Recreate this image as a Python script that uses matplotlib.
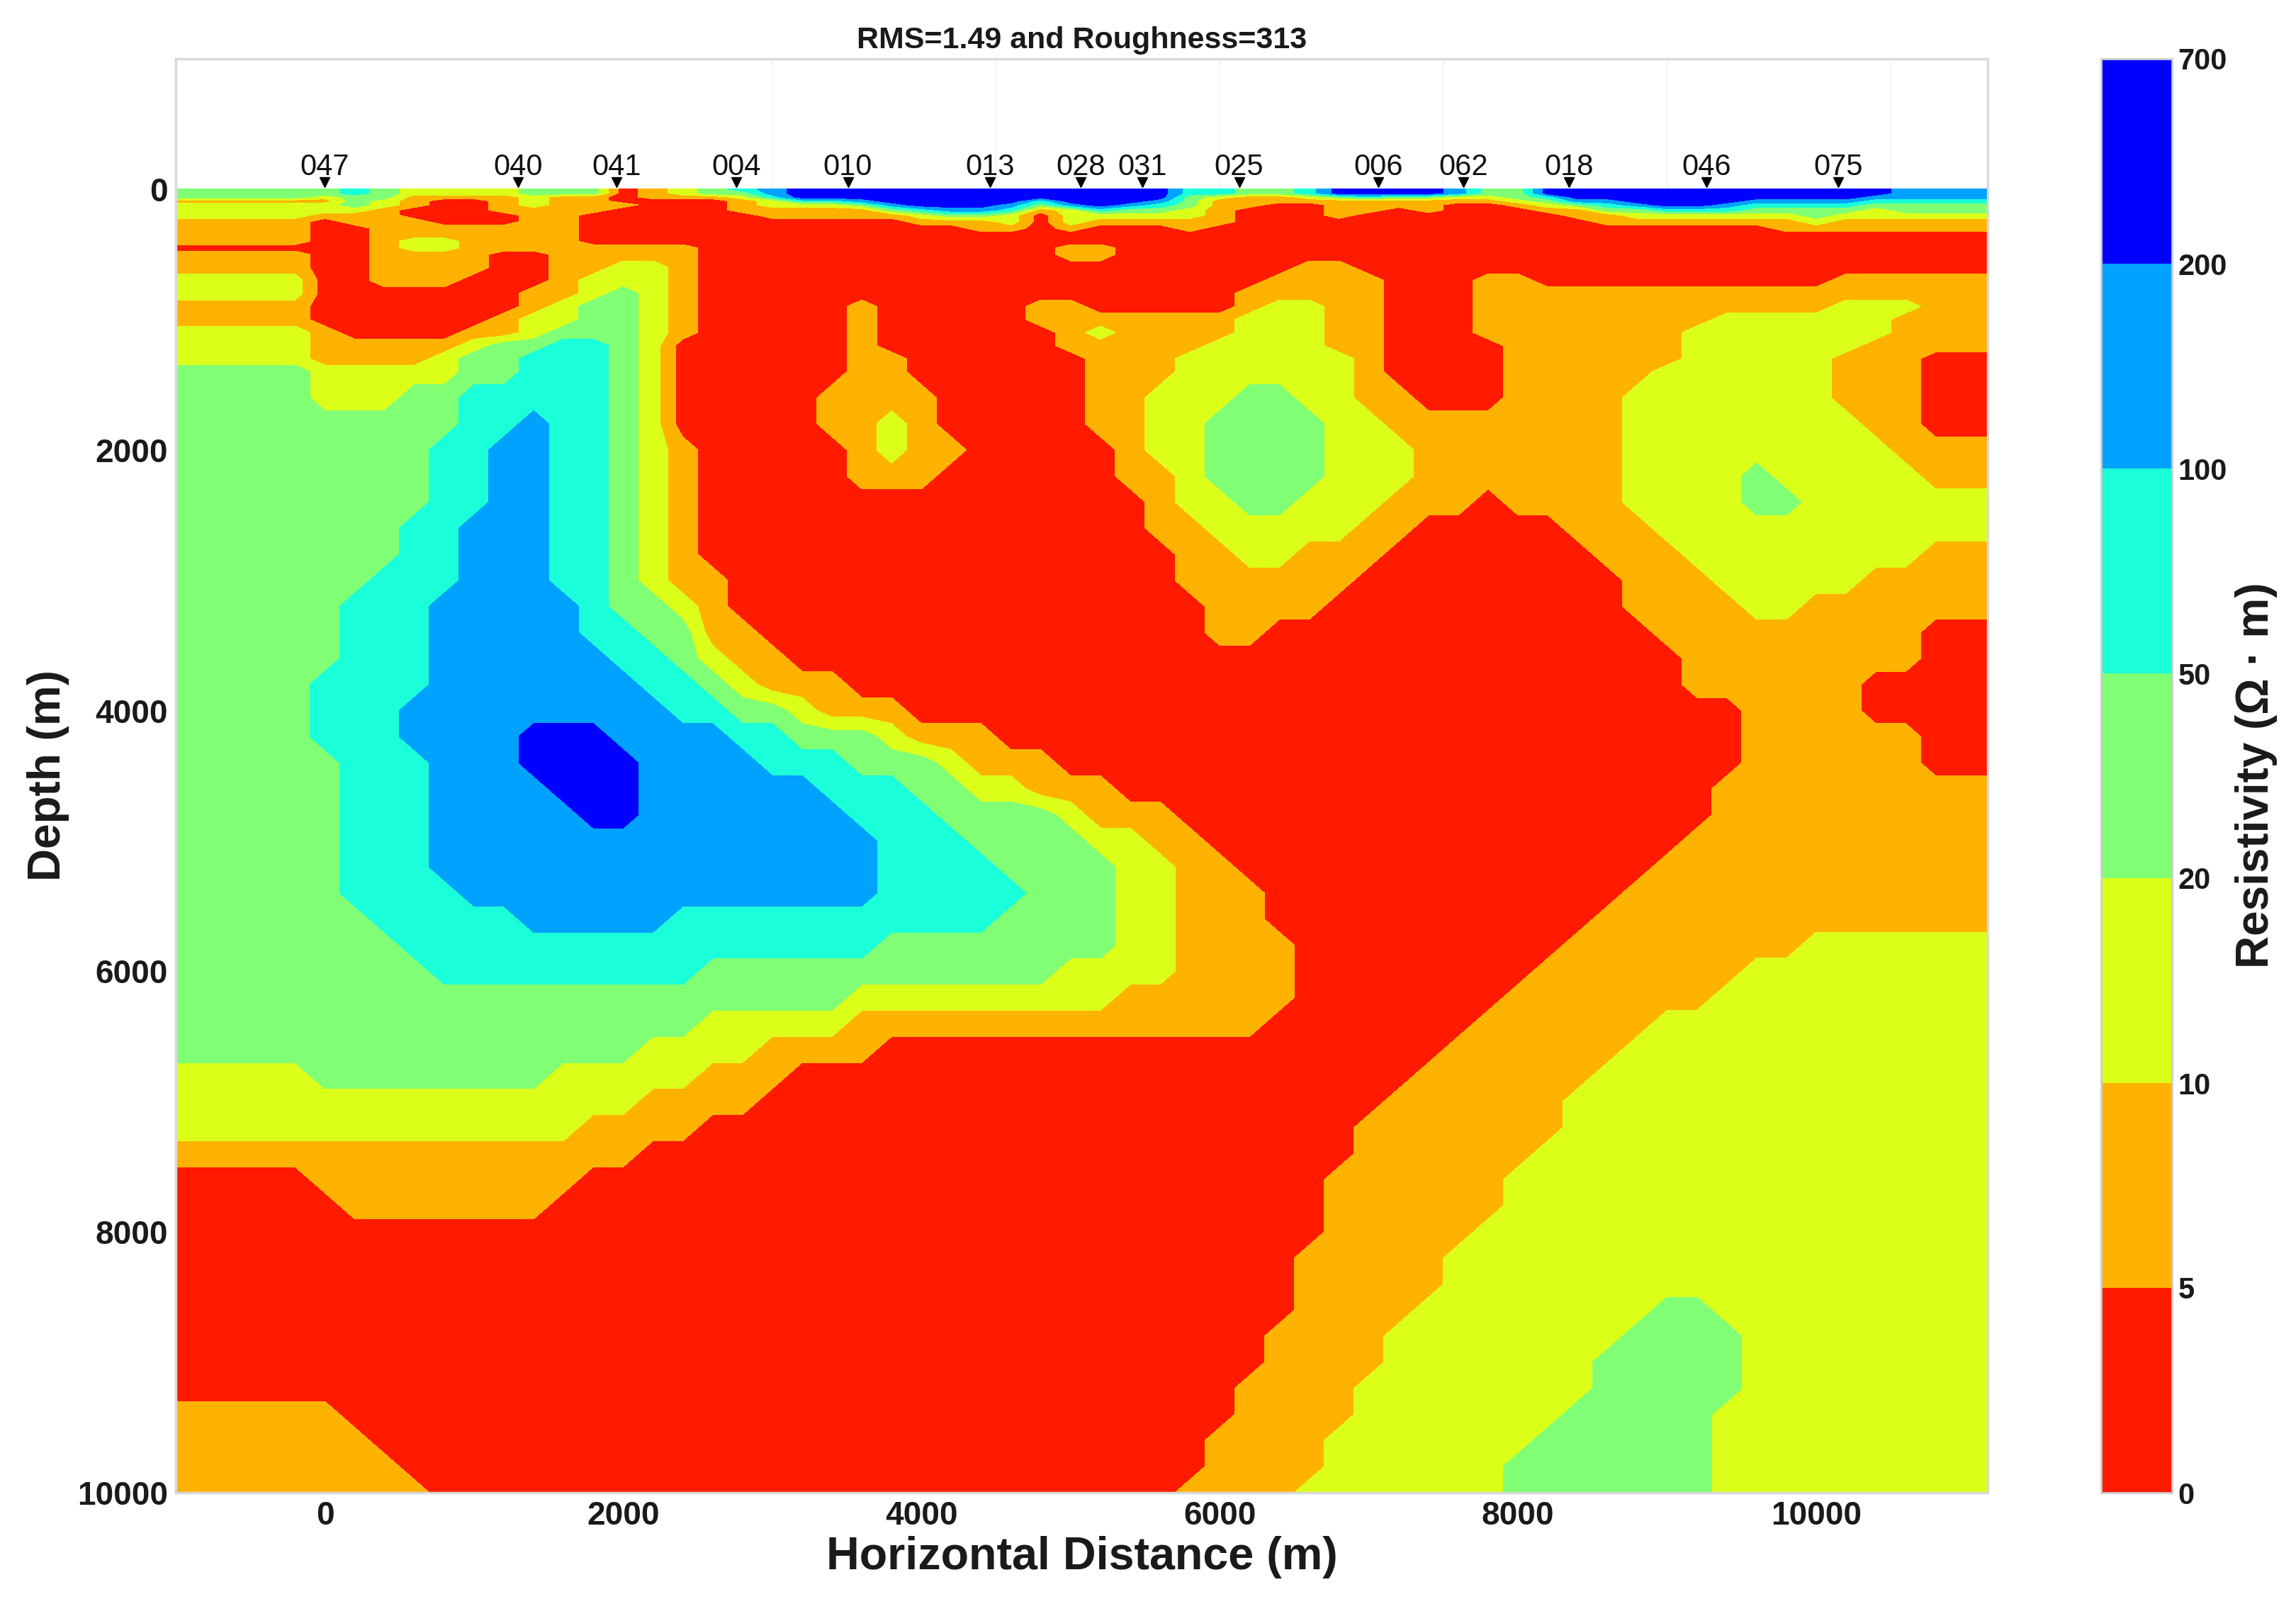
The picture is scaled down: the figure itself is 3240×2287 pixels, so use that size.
import numpy as np
import matplotlib
matplotlib.use("Agg")
import matplotlib.pyplot as plt

plt.rcParams['font.family'] = ['Liberation Sans', 'DejaVu Sans']

# Resistivity class per grid node: r o y g c b d = bands 0-5, 5-10, 10-20, 20-50, 50-100, 100-200, 200-700
BOUNDS = [0, 5, 10, 20, 50, 100, 200, 700]
COLORS = ['#ff1a00', '#ffb300', '#dcff1a', '#80ff75', '#1affd9', '#00a2ff', '#0000ff']
CLASS = 'roygcbd'

x_nodes = list(range(-1000, 11001, 200))
depths_shallow = [0, 30, 60, 90, 120, 160, 200, 250, 300, 350, 400, 450, 500]
depths_deep = list(range(600, 1401, 100)) + list(range(1600, 10001, 200))

# one string per x node, one letter per shallow depth
shallow_columns = [
    "gggoyyyooooro", "gggoyyyooooro", "gggoyyyooooro", "gggoyyyooooro", "gggoyyyooooro",
    "ggyoyyorrrrrr", "ccgggyoorrrrr", "gggyyoooooooo", "yyooorroooyyo", "yyorrrrrooyyo",
    "yyorrrrrooooo", "yyoooorroooor", "ggyyyooooooor", "ggooooooooooo", "ggoooorrrrroo",
    "rrrrorrrrrroo", "ooorrrrrrrroo", "yyorrrrrrrroo", "ggorrrrrrrrrr", "cgyooorrrrrrr",
    "bbcyyoorrrrrr", "dddcyoorrrrrr", "dddcyoorrrrrr", "dddbgoorrrrrr", "ddddbgorrrrrr",
    "dddddcyorrrrr", "dddddbgorrrrr", "dddddbgoorrrr", "ddddbcyyorrrr", "dddcgorrrrrrr",
    "ddddbyyyorroo", "dddddcyorrroo", "ddddbgyorrrrr", "dddbcgyorrrrr", "ccgggyyoorrrr",
    "ccyooooorrrrr", "ggooorrrrrrrr", "ggoorrrrrrrrr", "ccyorrrrrrrrr", "ddgoooorrrrrr",
    "ddcooorrrrrrr", "ddgoorrrrrrrr", "ddgooorrrrrrr", "bbyorrrrrrrrr", "ggyorrrrrrrrr",
    "gggyorrrrrrrr", "ddcgyorrrrrrr", "dddbgoorrrrrr", "dddbcgoorrrrr", "ddddbgyorrrrr",
    "dddddcyorrrrr", "dddddcyorrrrr", "ddddbcyorrrrr", "dddbcgyorrrrr", "dddbcgyoorrrr",
    "dddbcggyorrrr", "dddbcgyoorrrr", "ddbcgyyoorrrr", "bbbcggyoorrrr", "bbbcggyoorrrr",
    "bbbcggyoorrrr",
]

# one run-length row per deep depth: letter + node count
deep_rows = [
    "o5 r2 o4 r2 o2 y2 o1 r20 o2 r21",
    "y5 r2 o3 r3 o1 y3 o1 r19 o4 r3 o2 r10 o5",
    "y5 r7 o2 y1 g1 y1 o1 r18 o5 r3 o17",
    "o5 r7 o1 y1 g2 y1 o1 r5 o1 r5 o2 r5 o1 y2 o2 r3 o12 y3 o2",
    "o5 r6 o1 y2 g2 y1 o1 r5 o1 r5 o7 y3 o2 r3 o8 y6 o3",
    "y5 o1 r4 o2 y1 g3 y1 o1 r5 o1 r6 o1 y1 o4 y3 o2 r3 o7 y7 o3",
    "y5 o5 y1 g2 c2 g1 y1 r6 o1 r6 o5 y4 o2 r4 o6 y6 o4",
    "y5 o4 y1 g2 c3 g1 y1 r6 o2 r6 o3 y6 o1 r4 o6 y5 o3 r2",
    "g5 y5 g2 c3 g1 y1 r6 o2 r6 o3 y6 o1 r4 o5 y6 o3 r2",
    "g5 y3 g2 c5 g1 y1 r5 o4 r5 o2 y3 g2 y2 o2 r3 o4 y7 o3 r2",
    "g10 c2 b1 c2 g1 y1 r5 o2 y1 o1 r5 o2 y2 g4 y2 o8 y8 o2 r2",
    "g9 c2 b2 c2 g1 y1 o1 r5 o1 y1 o2 r5 o1 y2 g4 y3 o7 y9 o3",
    "g9 c2 b2 c2 g1 y1 o1 r5 o3 r6 o2 y1 g4 y3 o7 y4 g1 y5 o2",
    "g9 c2 b2 c2 g1 y1 o1 r15 o1 y2 g2 y3 o3 r1 o4 y4 g2 y6",
    "g8 c2 b3 c2 g1 y1 o1 r15 o2 y5 o2 r5 o3 y11",
    "g8 c2 b3 c2 g1 y1 o1 r16 o2 y2 o3 r7 o3 y8 o2",
    "g7 c3 b3 c2 g1 y1 o2 r15 o6 r9 o3 y5 o4",
    "g6 c3 b5 c1 g2 y1 o1 r16 o4 r10 o4 y2 o6",
    "g6 c3 b5 c2 g2 o2 r15 o2 r13 o9 r2",
    "g6 c3 b6 c2 g1 y1 o2 r30 o8 r2",
    "g5 c4 b7 c2 g1 y1 o3 r28 o6 r4",
    "g5 c3 b9 c2 g2 y1 o3 r28 o4 r4",
    "g5 c3 b4 d3 b4 c2 g3 y1 o3 r25 o6 r2",
    "g6 c3 b3 d4 b4 c3 g3 y1 o3 r23 o6 r2",
    "g6 c3 b4 d3 b6 c3 g2 y2 o3 r20 o9",
    "g6 c3 b5 d2 b7 c3 g4 y1 o3 r18 o9",
    "g6 c3 b15 c3 g4 y2 o2 r16 o10",
    "g6 c3 b15 c4 g4 y2 o2 r14 o11",
    "g6 c4 b14 c5 g3 y2 o3 r12 o12",
    "g7 c5 b5 c11 g4 y2 o3 r11 o13",
    "g8 c16 g8 y2 o4 r9 o8 y6",
    "g9 c9 g12 y4 o4 r8 o7 y8",
    "g23 y9 o6 r7 o7 y9",
    "g18 y5 o14 r7 o6 y11",
    "g16 y4 o4 r19 o6 y12",
    "y5 g8 y5 o3 r21 o6 y13",
    "y16 o4 r21 o6 y14",
    "y14 o4 r22 o7 y14",
    "o16 r24 o6 y15",
    "r5 o9 r25 o6 y16",
    "r6 o7 r26 o6 y16",
    "r39 o5 y17",
    "r38 o5 y18",
    "r38 o5 y18",
    "r38 o4 y8 g2 y9",
    "r37 o4 y8 g4 y8",
    "r37 o4 y7 g5 y8",
    "r36 o4 y8 g5 y8",
    "o6 r30 o4 y7 g5 y9",
    "o7 r28 o4 y7 g6 y9",
    "o8 r27 o4 y6 g7 y9",
    "o9 r25 o4 y7 g7 y9",
]

station_names = ["047", "040", "041", "004", "010", "013", "028", "031",
                 "025", "006", "062", "018", "046", "075"]
station_x = [0, 1297, 1955, 2760, 3507, 4460, 5070, 5480,
             6130, 7063, 7633, 8340, 9263, 10147]
x_ticks = [0, 2000, 4000, 6000, 8000, 10000]
y_ticks = [0, 2000, 4000, 6000, 8000, 10000]
faint_x = [3000, 4500, 6000, 7500, 9000, 10500]


def decode_row(text, width):
    out = []
    for tok in text.split():
        out += [CLASS.index(tok[0]) + 0.5] * int(tok[1:])
    assert len(out) == width, (text, len(out))
    return out


nx = len(x_nodes)
shallow = np.array([[CLASS.index(ch) + 0.5 for ch in col] for col in shallow_columns]).T
deep = np.array([decode_row(r, nx) for r in deep_rows])
Z = np.vstack([shallow, deep])
Z = np.hstack([Z, Z[:, -1:]])
xs = np.array(x_nodes + [x_nodes[-1] + 200])
ys = np.array(depths_shallow + depths_deep)

W, H = 3241, 2287
fig = plt.figure(figsize=(W / 100, H / 100), dpi=100, facecolor='white')


def box(l, t, r, b):
    return [l / W, 1 - b / H, (r - l) / W, (b - t) / H]


ax = fig.add_axes(box(248, 83, 2805, 2106))
levels = np.arange(len(BOUNDS))
cs = ax.contourf(xs, ys, Z, levels=levels, colors=COLORS)
ax.set_xlim(-1000, 11150)
ax.set_ylim(10000, -1000)
ax.vlines(faint_x, -1000, 0, color='#f4f4f4', lw=1.5, zorder=0)
ax.plot(station_x, [-55] * len(station_x), ls='none', marker='v', ms=10.5, color='black', clip_on=False)
for name, sx in zip(station_names, station_x):
    ax.text(sx, -170, name, ha='center', va='center', fontsize=30, color='#111111')

ax.set_xticks(x_ticks)
ax.set_yticks(y_ticks)
ax.tick_params(length=0, labelsize=33, pad=8)
for lab in ax.get_xticklabels() + ax.get_yticklabels():
    lab.set_fontweight('bold')
    lab.set_color('#1a1a1a')
for s in ax.spines.values():
    s.set_color('#d9d9d9')
    s.set_linewidth(2.5)

fig.text(1527 / W, 1 - 57 / H, 'RMS=1.49 and Roughness=313', ha='center', va='center',
         fontsize=31, fontweight='bold', color='#1a1a1a')
fig.text(1527 / W, 1 - 2197 / H, 'Horizontal Distance (m)', ha='center', va='center',
         fontsize=46.5, fontweight='bold', color='#1a1a1a')
fig.text(68 / W, 1 - 1094 / H, 'Depth (m)', rotation=90, ha='center', va='center',
         fontsize=46, fontweight='bold', color='#1a1a1a')

cax = fig.add_axes(box(2965, 83, 3065, 2106))
cb = fig.colorbar(cs, cax=cax, ticks=levels, spacing='uniform', drawedges=False)
cb.ax.set_yticklabels([str(v) for v in BOUNDS])
cb.ax.tick_params(length=0, labelsize=30, pad=6)
for lab in cb.ax.get_yticklabels():
    lab.set_fontweight('bold')
    lab.set_color('#1a1a1a')
cb.outline.set_edgecolor('#cccccc')
cb.outline.set_linewidth(2)
fig.text(3184 / W, 1 - 1094 / H, 'Resistivity (Ω · m)', rotation=90, ha='center', va='center',
         fontsize=46, fontweight='bold', color='#1a1a1a')

fig.savefig('out.png', dpi=100, facecolor='white')
